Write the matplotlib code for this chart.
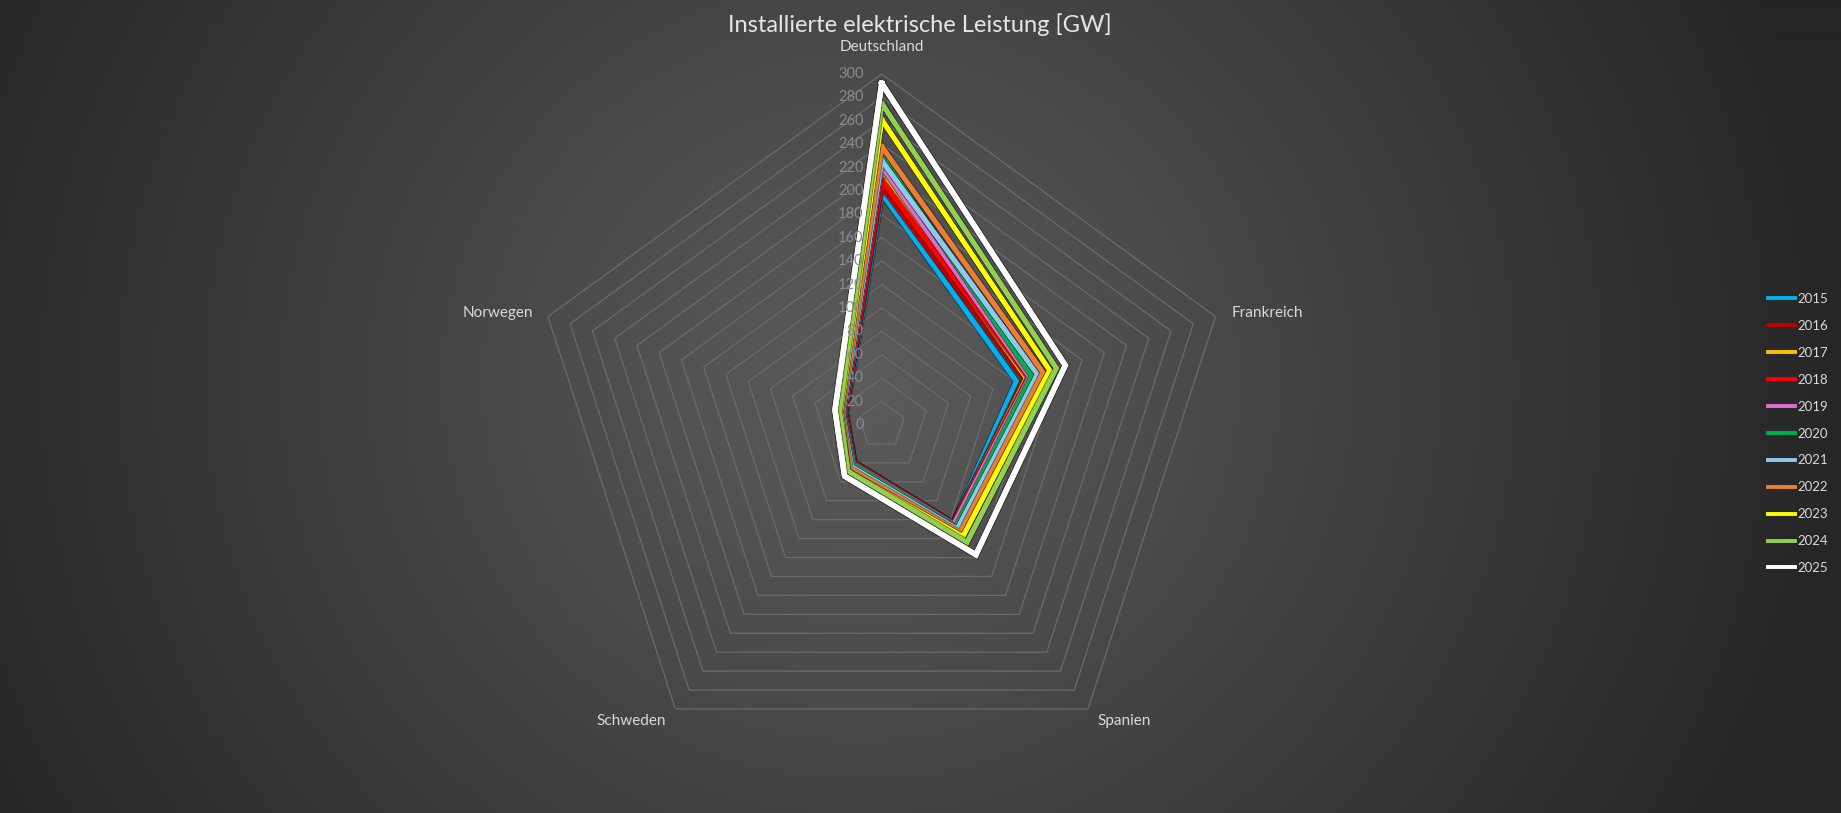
import numpy as np
import matplotlib
matplotlib.use("Agg")
import matplotlib.pyplot as plt
import matplotlib.patheffects as pe

# ---------------- data ----------------
title = "Installierte elektrische Leistung [GW]"
categories = ["Deutschland", "Frankreich", "Spanien", "Schweden", "Norwegen"]
years = ["2015", "2016", "2017", "2018", "2019", "2020",
         "2021", "2022", "2023", "2024", "2025"]
v2015 = [198, 121, 104, 40, 32]
v2016 = [204, 128, 104, 40, 33]
v2017 = [213, 130, 104, 40, 33]
v2018 = [209, 132, 104, 40, 33]
v2019 = [221, 133, 105, 41, 34]
v2020 = [230, 135, 108, 42, 35]
v2021 = [226, 140, 110, 44, 35]
v2022 = [238, 145, 114, 46, 36]
v2023 = [261, 151, 118, 49, 37]
v2024 = [275, 157, 124, 49, 38]
v2025 = [292, 165, 137, 54, 42]
series = [v2015, v2016, v2017, v2018, v2019, v2020,
          v2021, v2022, v2023, v2024, v2025]
colors = ["#00B0F0", "#C00000", "#FFC000", "#FF0000", "#E06CCB", "#00B050",
          "#8ECBEA", "#ED7D31", "#FFFF00", "#92D050", "#FFFFFF"]
r_ticks = list(range(0, 301, 20))

# ---------------- figure ----------------
W, H, DPI = 1841, 813, 100
fig = plt.figure(figsize=(W / DPI, H / DPI), dpi=DPI)
fig.patch.set_facecolor("#2b2b2b")

# radial gradient background
bg = fig.add_axes([0, 0, 1, 1], zorder=-10)
yy, xx = np.mgrid[0:H, 0:W]
d = np.sqrt((xx - 860.0) ** 2 + ((yy - 380.0) * 1.05) ** 2) / 980.0
d = np.clip(d, 0, 1) ** 1.0
inner, outer = 0x5C / 255, 0x26 / 255
img = inner + (outer - inner) * d
bg.imshow(np.dstack([img, img, img]), extent=[0, W, H, 0], aspect="auto")
bg.set_axis_off()

# polar axes: centre (881.7, 425) px, radius 351 px
cx, cy, R = 881.7, 425.0, 351.0
ax = fig.add_axes([(cx - R) / W, (H - cy - R) / H, 2 * R / W, 2 * R / H],
                  projection="polar")
ax.set_facecolor("none")
ax.set_theta_offset(np.pi / 2)
ax.set_theta_direction(-1)
ax.set_ylim(0, 300)
ax.grid(False)
ax.spines["polar"].set_visible(False)
ax.set_xticks([])
ax.set_yticks([])

n = len(categories)
angles = np.linspace(0, 2 * np.pi, n, endpoint=False)
ang_closed = np.concatenate([angles, angles[:1]])

# pentagon grid rings
for v in r_ticks[1:]:
    ax.plot(ang_closed, [v] * (n + 1), color="#6c6c6c", lw=0.9, zorder=1)

# radial tick labels (drawn above the series, as in the reference)
px2pt = 72.0 / DPI
for v in r_ticks:
    ax.annotate(str(v), xy=(0, v), xytext=(-13, 0), textcoords="offset points",
                ha="right", va="center", fontsize=10.5, color="#8a8a8a",
                family=["Lato", "DejaVu Sans"], zorder=20)

# category labels (offsets in pixels)
cat_off = [(0, 27, "center"), (16, 4, "left"), (9, -12, "left"),
           (-9, -12, "right"), (-15, 4, "right")]
for a, name, (dx, dy, ha) in zip(angles, categories, cat_off):
    ax.annotate(name, xy=(a, 300), xytext=(dx * px2pt, dy * px2pt),
                textcoords="offset points", ha=ha, va="center",
                fontsize=11, color="#d9d9d9", family=["Lato", "DejaVu Sans"],
                annotation_clip=False)

# series
handles = []
for vals, col, yr in zip(series, colors, years):
    lw = 3.9 if yr == "2025" else 3.4
    ln, = ax.plot(ang_closed, list(vals) + [vals[0]], color=col, lw=lw,
                  label=yr, zorder=5, solid_joinstyle="miter",
                  path_effects=[pe.withStroke(linewidth=lw + 1.6,
                                              foreground="#1e1e1e", alpha=0.55),
                                pe.Normal()])
    handles.append(ln)

# title
fig.text(919.5 / W, 1 - 24.5 / H, title, ha="center", va="center",
         fontsize=17, color="#e6e6e6", family=["Lato", "DejaVu Sans"])

# legend
leg = fig.legend(handles=handles, labels=years, loc="center left",
                 bbox_to_anchor=(1768 / W, 1 - 433.5 / H),
                 bbox_transform=fig.transFigure, frameon=False,
                 handlelength=2.05, handletextpad=0.15, labelspacing=1.13,
                 borderpad=0, borderaxespad=0,
                 prop={"family": ["Lato", "DejaVu Sans"], "size": 9.5})
for t in leg.get_texts():
    t.set_color("#d9d9d9")
for h in leg.legend_handles:
    h.set_path_effects([])
    h.set_linewidth(2.8)

fig.savefig("out.png", dpi=DPI, facecolor=fig.get_facecolor())
